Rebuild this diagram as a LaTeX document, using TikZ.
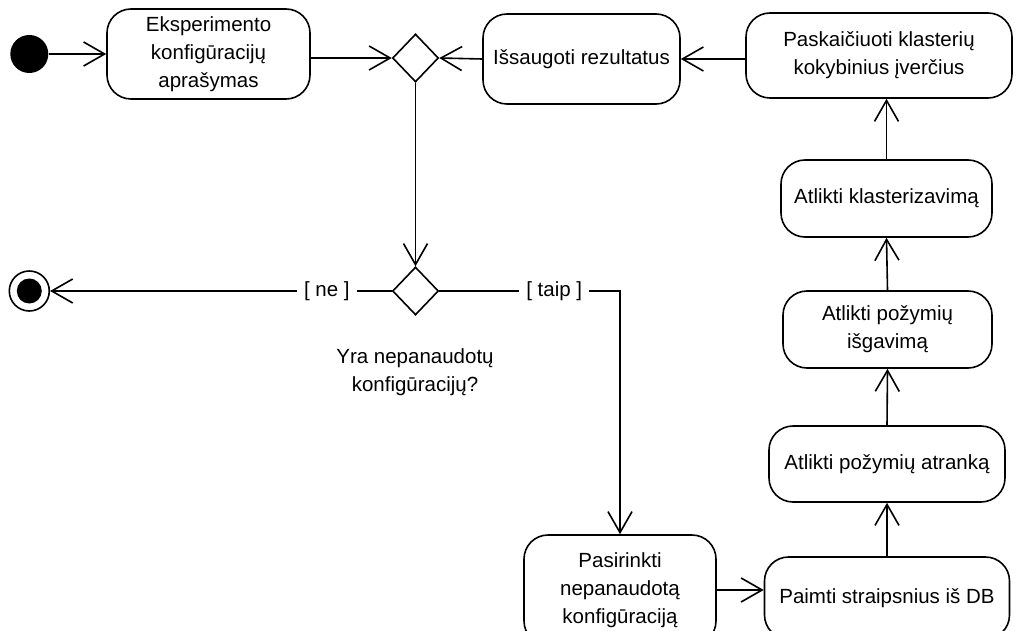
\documentclass[tikz,border=0pt]{standalone}
\usepackage{fontspec}
\setmainfont{Liberation Sans}
\usetikzlibrary{arrows.meta,shapes.geometric}
\begin{document}
\begin{tikzpicture}[x=1pt,y=-1pt,
  txt/.style={font=\fontsize{20.5}{28}\selectfont},
  act/.style={txt, draw, line width=1.6pt, rounded corners=24pt, align=center, inner sep=0pt},
  dec/.style={draw, line width=1.6pt, diamond, minimum width=46pt, minimum height=48pt, inner sep=0pt},
  flow/.style={line width=1.6pt, -{Straight Barb[length=21pt,width=24pt,line width=1.6pt]}},
  lbl/.style={txt, fill=white, inner sep=7pt}
]
\useasboundingbox (0,0) rectangle (1019,631);

% initial and final states
\node[circle, fill=black, minimum size=38pt, inner sep=0pt] (start) at (29.3,54) {};
\node[circle, draw, line width=1.6pt, minimum size=40pt, inner sep=0pt] (end) at (29.3,291) {};
\node[circle, fill=black, minimum size=25pt, inner sep=0pt] (endin) at (end.center) {};

% activities
\node[act, minimum width=203pt, minimum height=90pt] (conf) at (208.5,54) {Eksperimento\\konfigūracijų\\aprašymas};
\node[act, minimum width=197pt, minimum height=90pt] (save) at (581.5,59) {Išsaugoti rezultatus};
\node[act, minimum width=266pt, minimum height=85pt] (calc) at (879,55.5) {Paskaičiuoti klasterių\\kokybinius įverčius};
\node[act, minimum width=211pt, minimum height=77pt] (clust) at (886.5,198.5) {Atlikti klasterizavimą};
\node[act, minimum width=209pt, minimum height=77pt] (extr) at (887.5,329.5) {Atlikti požymių\\išgavimą};
\node[act, minimum width=236pt, minimum height=76pt] (sel) at (887,464) {Atlikti požymių atranką};
\node[act, minimum width=245pt, minimum height=82pt] (fetch) at (887,598) {Paimti straipsnius iš DB};
\node[act, minimum width=192pt, minimum height=110pt] (pick) at (620,590) {Pasirinkti\\nepanaudotą\\konfigūraciją};

% decisions
\node[dec] (d1) at (415.5,58) {};
\node[dec] (d2) at (415.5,291) {};
\node[txt, align=center] (q) at (415,372) {Yra nepanaudotų\\konfigūracijų?};

% control flow
\draw[flow] (start) -- (conf);
\draw[flow] (d1.west -| conf.east) -- (d1.west);
\draw[flow] (save.west) -- (d1.east);
\draw[flow] (save.east -| calc.west) -- (save.east);
\draw[flow] (d1.south) -- (d2.north);
\draw[flow] (d2.west) -- node[lbl, pos=0.19] {[ ne ]} (end);
\coordinate (turn) at (pick.north |- d2.east);
\draw[flow] (d2.east) -- node[lbl, pos=0.636] {[ taip ]} (turn) -- (pick.north);
\draw[flow] (pick.east) -- (pick.east -| fetch.west);
\draw[flow] (fetch.north) -- (sel.south);
\draw[flow] (sel.north) -- (extr.south);
\draw[flow] (extr.north) -- (clust.south);
\draw[flow] (clust.north) -- (clust.north |- calc.south);
\end{tikzpicture}
\end{document}
